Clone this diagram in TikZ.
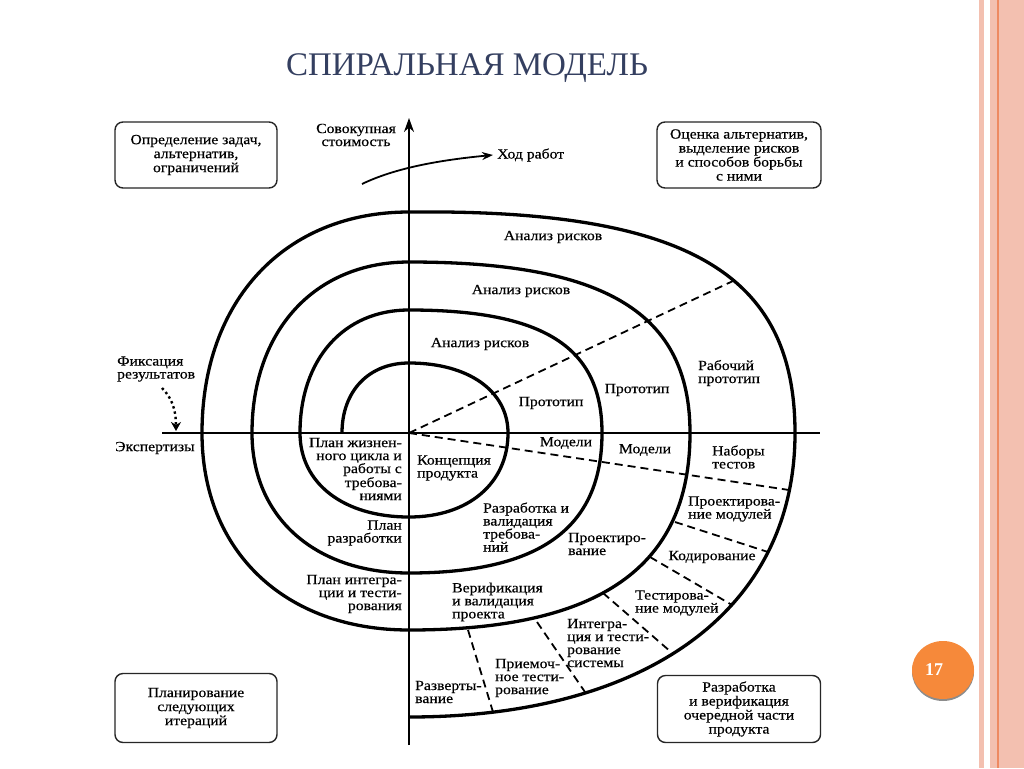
\documentclass[tikz,border=0pt]{standalone}
\usepackage{fontspec}
\setmainfont{Liberation Serif}[FakeStretch=1.12, FakeBold=0.4]
\newfontfamily\titlefont{Liberation Serif}
\usetikzlibrary{arrows.meta, calc}
\definecolor{titleblue}{RGB}{52,63,96}
\definecolor{slideorange}{RGB}{246,137,58}
\definecolor{stripefill}{RGB}{243,192,176}
\definecolor{stripeline}{RGB}{238,138,98}

\tikzset{
  lbl/.style={font=\fontsize{14}{13}\selectfont, inner sep=0pt, align=left},
  lblr/.style={lbl, align=right},
  cornerbox/.style={draw=black!85, line width=1.4pt, rounded corners=8pt, align=center,
    font=\fontsize{14}{14}\selectfont, inner sep=0pt},
  spiralline/.style={line width=3.3pt},
  axisline/.style={line width=1.8pt},
  phasecut/.style={line width=1.8pt, dash pattern=on 8pt off 5pt},
}

\begin{document}
\begin{tikzpicture}[x=1pt,y=-1pt]
\useasboundingbox (0,0) rectangle (1024,768);
\fill[white] (0,0) rectangle (1024,768);

% slide decoration
\fill[stripefill] (979,0) rectangle (984,768);
\fill[stripefill] (990,0) rectangle (1024,768);
\draw[stripeline, line width=1.5pt] (998,0) -- (998,768);
\fill[black!45] (943,672) ellipse[x radius=31, y radius=29];
\fill[slideorange] (943,670) ellipse[x radius=31, y radius=29];
\node[font=\titlefont\bfseries\fontsize{18}{18}\selectfont, text=white] (pagenum) at (934,670) {17};

\node[font=\titlefont\fontsize{33}{33}\selectfont, text=titleblue] (ttl) at (467,68) {СПИРАЛЬНАЯ МОДЕЛЬ};

% axes
\coordinate (O) at (409,433);
\coordinate (ytop) at (409,118);
\coordinate (ybot) at (409,745);
\coordinate (xl) at (162,433);
\coordinate (xr) at (820,433);
\draw[axisline] (xl) -- (xr);
\draw[axisline, -{Stealth[length=14pt,width=10pt]}] (ybot) -- (ytop);

% spiral
\draw[spiralline] (342,433)
  .. controls (342,391) and (368.8,363) .. (409,363)
  .. controls (468.4,363) and (508,391) .. (508,433)
  .. controls (508,483.4) and (468.4,517) .. (409,517)
  .. controls (343.6,517) and (300,483.4) .. (300,433)
  .. controls (300,359.2) and (343.6,310) .. (409,310)
  .. controls (544,310) and (602,347) .. (602,433)
  .. controls (602,528) and (540,573) .. (409,573)
  .. controls (314.8,573) and (252,517) .. (252,433)
  .. controls (252,330.4) and (314.8,262) .. (409,262)
  .. controls (606,262) and (690,313) .. (690,433)
  .. controls (690,567) and (600,630) .. (409,630)
  .. controls (284.8,630) and (202,551.2) .. (202,433)
  .. controls (202,300.4) and (284.8,212) .. (409,212)
  .. controls (690,209) and (795,275) .. (795,433)
  .. controls (795,609) and (648,717) .. (409,717);

% dashed borders
\draw[phasecut] (O) -- (733,281);
\draw[phasecut] (O) -- (789,490);
\draw[phasecut] (675,522) -- (768,552);
\draw[phasecut] (650,557) -- (732,605);
\draw[phasecut] (603,593) -- (671,652);
\draw[phasecut] (537,622) -- (585,692);
\draw[phasecut] (468,630) -- (493,712);

% corner boxes
\node[cornerbox, minimum width=162, minimum height=66] (boxTL) at (196,155)
  {Определение задач,\\альтернатив,\\ограничений};
\node[cornerbox, minimum width=164, minimum height=66] (boxTR) at (739,155)
  {Оценка альтернатив,\\выделение рисков\\и способов борьбы\\с ними};
\node[cornerbox, minimum width=162, minimum height=69] (boxBL) at (196,708)
  {Планирование\\следующих\\итераций};
\node[cornerbox, minimum width=163, minimum height=67] (boxBR) at (739,709)
  {Разработка\\и верификация\\очередной части\\продукта};

% labels round the axes
\node[lbl, align=center] (cost) at (356,135) {Совокупная\\стоимость};
\node[lbl, anchor=west] (progress) at (497,155) {Ход работ};
\node[lbl, anchor=west] (fix) at (117,369) {Фиксация\\результатов};
\node[lbl, anchor=west] (expert) at (115,448) {Экспертизы};
\coordinate (turnstart) at (362,184);
\coordinate (fixstart) at (162,388);
\coordinate (fixend) at (176,431);
\draw[line width=1.8pt, -{Stealth[length=11pt,width=8pt]}] (turnstart)
  .. controls (395,168) and (440,160) .. ([xshift=-4pt]progress.west);
\draw[line width=2.4pt, dash pattern=on 2.4pt off 3pt, -{Stealth[length=9pt,width=10pt]}]
  (fixstart) .. controls (172,398) and (176,410) .. (fixend);

% labels in the spiral
\node[lbl] (risk1) at (553,237) {Анализ рисков};
\node[lbl] (risk2) at (521,291) {Анализ рисков};
\node[lbl] (risk3) at (480,344) {Анализ рисков};
\node[lbl] (proto1) at (551,403) {Прототип};
\node[lbl] (proto2) at (637,390) {Прототип};
\node[lbl, anchor=west] (workproto) at (698,373) {Рабочий\\прототип};
\node[lbl] (models1) at (566,443) {Модели};
\node[lbl] (models2) at (645,450) {Модели};
\node[lbl, anchor=west] (testsets) at (712,457) {Наборы\\тестов};
\node[lblr, anchor=east] (lifecycle) at (402,469) {План жизнен-\\ного цикла и\\работы с\\требова-\\ниями};
\node[lblr, anchor=east] (devplan) at (402,533) {План\\разработки};
\node[lblr, anchor=east] (intplan) at (402,594) {План интегра-\\ции и тести-\\рования};
\node[lbl, anchor=west] (concept) at (417,468) {Концепция\\продукта};
\node[lbl, anchor=west] (reqdev) at (483,527) {Разработка и\\валидация\\требова-\\ний};
\node[lbl, anchor=west] (design) at (568,544) {Проектиро-\\вание};
\node[lbl, anchor=west] (moddesign) at (688,509) {Проектирова-\\ние модулей};
\node[lbl] (coding) at (712,557) {Кодирование};
\node[lbl, anchor=west] (modtest) at (635,603) {Тестирова-\\ние модулей};
\node[lbl, anchor=west] (verif) at (452,602) {Верификация\\и валидация\\проекта};
\node[lbl, anchor=west] (integr) at (567,643) {Интегра-\\ция и тести-\\рование\\системы};
\node[lbl, anchor=west] (accept) at (495,678) {Приемоч-\\ное тести-\\рование};
\node[lbl, anchor=west] (deploy) at (415,692) {Разверты-\\вание};
\end{tikzpicture}
\end{document}
